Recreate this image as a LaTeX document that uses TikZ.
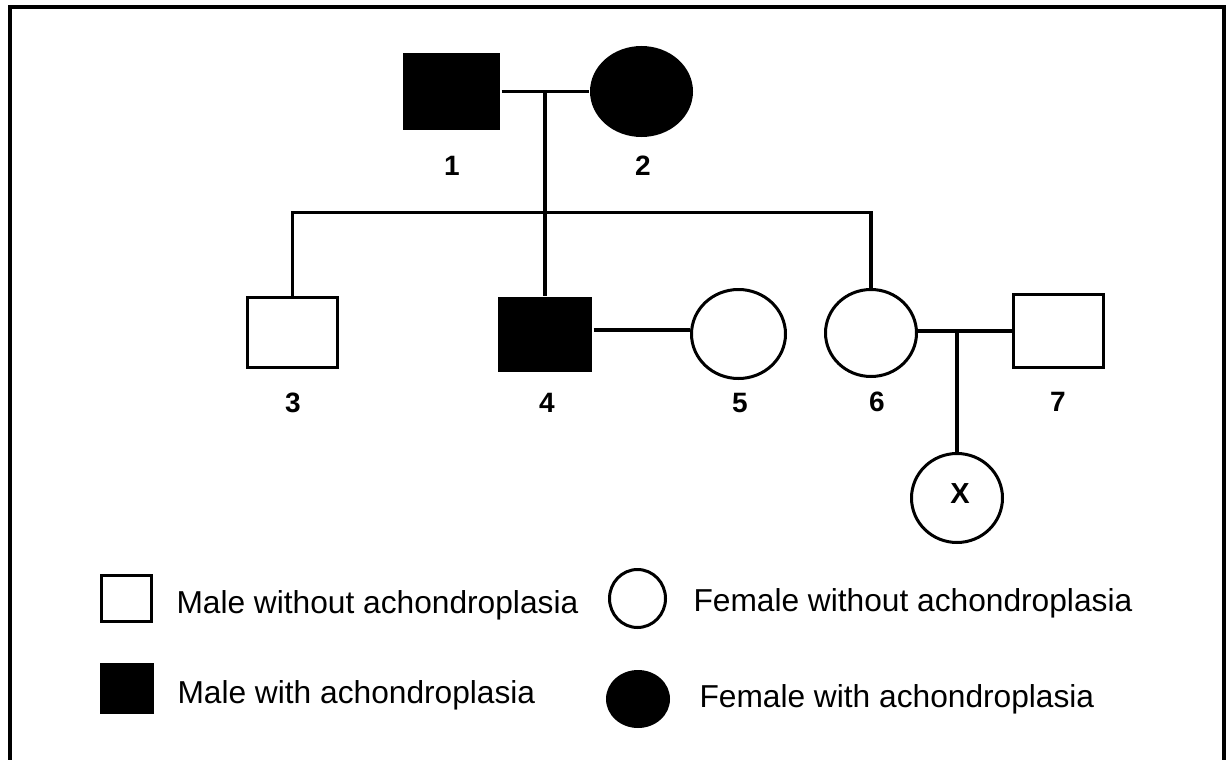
\documentclass[tikz,border=0pt]{standalone}
\usepackage{fontspec}
\setmainfont{Liberation Sans}
\usetikzlibrary{shapes.geometric}
\begin{document}
\begin{tikzpicture}[x=1pt,y=-1pt,
  line width=3pt,
  male/.style={draw=black,rectangle,inner sep=0pt,fill=white},
  malefill/.style={fill=black,rectangle,inner sep=0pt},
  female/.style={draw=black,ellipse,inner sep=0pt,fill=white},
  femalefill/.style={fill=black,ellipse,inner sep=0pt},
  lbl/.style={font=\fontsize{28}{31}\selectfont\bfseries,inner sep=0pt,anchor=base},
  legtext/.style={font=\fontsize{31.7}{36}\selectfont,inner sep=0pt,anchor=base west},
  conn/.style={draw=black,line width=3.5pt}
]
\useasboundingbox (0,0) rectangle (1227,760);
% frame (open at the bottom)
\draw[line width=4pt] (9.5,762) -- (9.5,7) -- (1223.5,7) -- (1223.5,762);

% generation I
\node[malefill,minimum width=97pt,minimum height=77pt] (n1) at (451.5,91.5) {};
\node[femalefill,minimum width=103pt,minimum height=91pt] (n2) at (641.5,91.5) {};
% generation II
\node[male,minimum width=90pt,minimum height=70pt] (n3) at (292.5,332.5) {};
\node[malefill,minimum width=94pt,minimum height=75pt] (n4) at (545,334.5) {};
\node[female,minimum width=94pt,minimum height=89pt] (n5) at (738.5,334) {};
\node[female,minimum width=91pt,minimum height=87pt] (n6) at (871,333) {};
\node[male,minimum width=90pt,minimum height=73pt] (n7) at (1058.5,331) {};
% generation III
\node[female,minimum width=91pt,minimum height=89pt] (nX) at (957,498) {};

% coordinates
\coordinate (m12) at (545,91.5);
\coordinate (sib) at (545,212.5);
\coordinate (m45) at (640,330);
\coordinate (m67) at (957,331);

% connectors
\draw[conn] (n1.east) -- (n2.west);
\draw[conn] (m12) -- (n4.north);
\draw[conn] (n3.north) |- (sib) -| (n6.north);
\draw[conn] (m45 -| n4.east) -- (m45 -| n5.west);
\draw[conn] (m67 -| n6.east) -- (m67 -| n7.west);
\draw[conn] (m67) -- (nX.north);

% labels
\node[lbl] (l1) at (452,175) {1};
\node[lbl] (l2) at (643,175) {2};
\node[lbl] (l3) at (293,412) {3};
\node[lbl] (l4) at (547,412) {4};
\node[lbl] (l5) at (740,412) {5};
\node[lbl] (l6) at (877,411) {6};
\node[lbl] (l7) at (1058,411) {7};
\node[font=\fontsize{29}{32}\selectfont\bfseries,inner sep=0pt] (lX) at (960,494) {X};

% legend
\node[male,minimum width=50pt,minimum height=46pt] (k1) at (126.5,598.5) {};
\node[malefill,minimum width=54pt,minimum height=51pt] (k2) at (127,688.5) {};
\node[female,minimum width=56pt,minimum height=58pt] (k3) at (637.5,598.5) {};
\node[femalefill,minimum width=64pt,minimum height=58pt] (k4) at (638,699) {};
\node[legtext] (t1) at (175,613) {Male without achondroplasia};
\node[legtext] (t2) at (176,703) {Male with achondroplasia};
\node[legtext] (t3) at (692,611) {Female without achondroplasia};
\node[legtext] (t4) at (698,707) {Female with achondroplasia};
\end{tikzpicture}
\end{document}
